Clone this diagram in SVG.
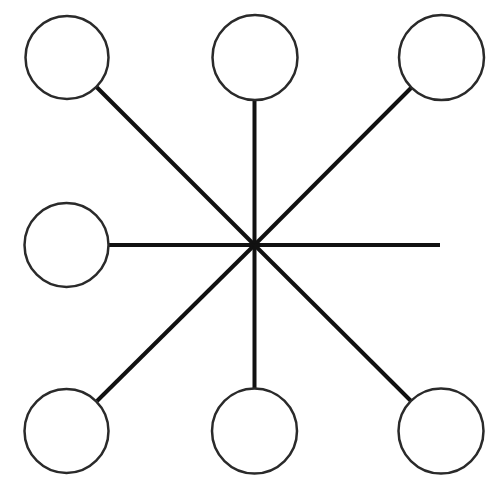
<svg xmlns="http://www.w3.org/2000/svg" width="487" height="492" viewBox="0 0 487 492">
<style>
.node circle{fill:#fff;stroke:#2a2a2a;stroke-width:2.5}
.edges line{stroke:#111;stroke-width:4;stroke-linecap:butt}
</style>
<rect width="487" height="492" fill="#fff"/>
<g class="edges">
<line x1="254.5" y1="245" x2="96.5" y2="87"/>
<line x1="254.5" y1="245" x2="254.5" y2="100"/>
<line x1="254.5" y1="245" x2="411" y2="88"/>
<line x1="254.5" y1="245" x2="109" y2="245"/>
<line x1="254.5" y1="245" x2="440" y2="245"/>
<line x1="254.5" y1="245" x2="97" y2="401"/>
<line x1="254.5" y1="245" x2="254.5" y2="388"/>
<line x1="254.5" y1="245" x2="411" y2="401"/>
</g>
<g id="n1" class="node"><circle cx="67" cy="57.5" r="41.5"/></g>
<g id="n2" class="node"><circle cx="255" cy="57.5" r="42.5"/></g>
<g id="n3" class="node"><circle cx="441.5" cy="57.5" r="42.5"/></g>
<g id="n4" class="node"><circle cx="66.5" cy="245" r="42"/></g>
<g id="n5" class="node"><circle cx="66.5" cy="431" r="42"/></g>
<g id="n6" class="node"><circle cx="254.5" cy="431" r="42.5"/></g>
<g id="n7" class="node"><circle cx="441" cy="431" r="42.5"/></g>
</svg>
